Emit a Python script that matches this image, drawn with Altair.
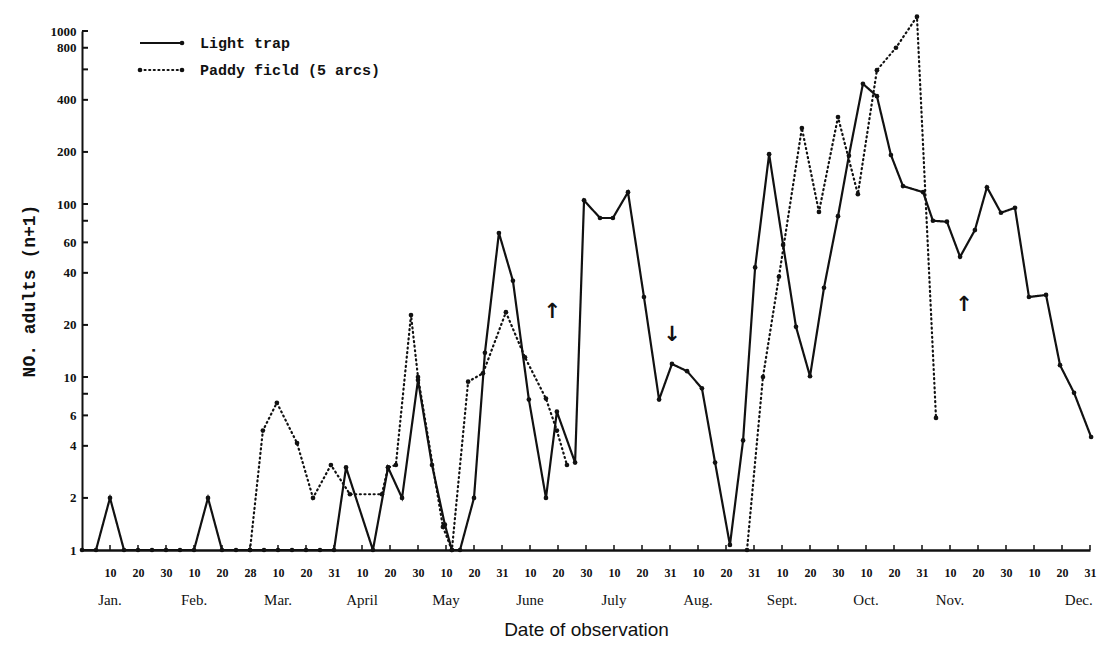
import altair as alt
import pandas as pd

# ---- axis text -------------------------------------------------------------
tick_labels = ["10", "20", "30", "10", "20", "28", "10", "20", "31",
               "10", "20", "30", "10", "20", "31", "10", "20", "30",
               "10", "20", "31", "10", "20", "31", "10", "20", "30",
               "10", "20", "31", "10", "20", "30", "10", "20", "31"]
months = ["Jan.", "Feb.", "Mar.", "April", "May", "June",
          "July", "Aug.", "Sept.", "Oct.", "Nov.", "Dec."]
y_ticks = [1, 2, 4, 6, 10, 20, 40, 60, 100, 200, 400, 800, 1000]
y_minor = [8, 80, 600]

# ---- data: x in 10-day periods from Jan 1, y = n + 1 ------------------------
light_k = [0, 0.5, 1, 1.5, 2, 2.5, 3, 3.5, 4, 4.5, 5, 5.5, 6, 6.5, 7, 7.5, 8, 8.5, 9,
           9.43, 10.39, 10.93, 11.43, 12.0, 12.5, 12.96, 13.21, 13.5, 14.0, 14.39,
           14.89, 15.39, 15.96, 16.57, 16.96, 17.61, 17.93,
           18.5, 18.96, 19.5, 20.07, 20.61, 21.07, 21.61, 22.14, 22.61, 23.14,
           23.61, 24.04, 24.54, 25.04, 25.5, 26.0, 26.5, 27.0, 27.39, 27.89,
           28.39, 28.89, 29.32, 30.04, 30.39, 30.89, 31.36, 31.89, 32.32, 32.82,
           33.32, 33.82, 34.43, 34.93, 35.43, 36.04]
light_v = [1, 1, 2, 1, 1, 1, 1, 1, 1, 2, 1, 1, 1, 1, 1, 1, 1, 1, 1,
           3, 1, 3, 2, 9.6, 3.1, 1.4, 1, 1, 2, 13.8, 68, 36, 7.4, 2.0, 6.3, 3.2, 105,
           83, 83, 117, 29, 7.4, 11.9, 10.8, 8.6, 3.2, 1.07, 4.3, 43, 194, 58, 19.5,
           10.1, 32.8, 85, 190, 495, 420, 192, 127, 117, 80, 79, 49.5, 70.7, 125,
           89, 95, 29, 29.8, 11.7, 8.1, 4.5]

paddy1_k = [6.0, 6.46, 6.96, 7.68, 8.25, 8.89, 9.57, 10.71, 10.93, 11.21, 11.75,
            12.0, 12.89, 13.21, 13.79, 14.32, 15.14, 15.82, 16.57, 16.96, 17.32]
paddy1_v = [1, 4.9, 7.1, 4.15, 2.0, 3.1, 2.1, 2.1, 3.0, 3.1, 22.8,
            10, 1.36, 1, 9.4, 10.5, 23.7, 13, 7.5, 4.9, 3.1]
paddy2_k = [23.75, 24.32, 24.89, 25.71, 26.32, 27.0, 27.71, 28.39, 29.07, 29.82, 30.5]
paddy2_v = [1, 10, 38, 275, 90, 318, 114, 594, 800, 1210, 5.8]

arrow_k = [16.8, 21.07, 31.5]
arrow_v = [23.8, 17.5, 26]
arrow_t = ["\u2191", "\u2193", "\u2191"]

# ---- frames ----------------------------------------------------------------
LT, PF = "Light trap", "Paddy ficld (5 arcs)"
df = pd.concat([
    pd.DataFrame({"k": light_k, "v": light_v, "series": LT, "seg": "L"}),
    pd.DataFrame({"k": paddy1_k, "v": paddy1_v, "series": PF, "seg": "P1"}),
    pd.DataFrame({"k": paddy2_k, "v": paddy2_v, "series": PF, "seg": "P2"}),
], ignore_index=True)

W, H = 1008, 519
FONT_TXT = "Liberation Mono"
INK = "#111111"

label_arr = "[" + ",".join(f"'{t}'" for t in tick_labels) + "]"

xscale = alt.Scale(domain=[0, 36], nice=False, zero=False)
yscale = alt.Scale(type="log", domain=[1, 1000], nice=False)

xaxis = alt.Axis(values=list(range(1, 37)), labelExpr=f"{label_arr}[datum.value - 1]",
                 ticks=False, grid=False, domainColor=INK, domainWidth=2.5,
                 labelFont="Liberation Serif", labelFontWeight="bold", labelFontSize=12,
                 labelColor=INK, labelPadding=17, labelOverlap=False, labelFlush=False,
                 labelSeparation=0, labelBound=False,
                 title="Date of observation", titleFont="Liberation Sans",
                 titleFontSize=19, titleFontWeight="normal", titleColor=INK,
                 titleY=70, titleBaseline="top")
yaxis = alt.Axis(values=y_ticks, format="d", ticks=False, grid=False, domainColor=INK,
                 domainWidth=2, labelFont="Liberation Serif", labelFontWeight="bold",
                 labelFontSize=13, labelColor=INK, labelPadding=6, labelOverlap=False,
                 labelFlush=False, labelSeparation=0,
                 title="NO. adults (n+1)", titleFont=FONT_TXT, titleFontSize=18,
                 titleFontWeight="bold", titleColor=INK, titlePadding=12)

X = alt.X("k:Q", scale=xscale, axis=xaxis)
Y = alt.Y("v:Q", scale=yscale, axis=yaxis)
dash = alt.StrokeDash("series:N", scale=alt.Scale(domain=[LT, PF], range=[[1, 0], [1, 3.6]]),
                      legend=None)

lines = alt.Chart(df).mark_line(color=INK, strokeWidth=2.2, strokeCap="round").encode(
    x=X, y=Y, detail="seg:N", strokeDash=dash)
dots = alt.Chart(df).mark_circle(color=INK, size=22, opacity=1).encode(x=X, y=Y)

# inward ticks
yt = pd.DataFrame({"v": y_ticks + y_minor})
ytick = alt.Chart(yt).mark_rule(color=INK, strokeWidth=2).encode(
    y=Y, x=alt.value(0), x2=alt.value(6))
xt = pd.DataFrame({"k": list(range(1, 37))})
xtick = alt.Chart(xt).mark_rule(color=INK, strokeWidth=1.5).encode(
    x=X, y=alt.value(H), y2=alt.value(H - 5))

# month names
month_k = [3 * i + 1 for i in range(12)]
month_k[-1] = 35.6
mdf = pd.DataFrame({"k": month_k, "m": months})
mtext = alt.Chart(mdf).mark_text(font="Liberation Serif", fontSize=15, color=INK,
                                 baseline="middle").encode(
    x=X, y=alt.value(H + 50), text="m:N")

# arrows
adf = pd.DataFrame({"k": arrow_k, "v": arrow_v, "t": arrow_t})
arrows = alt.Chart(adf).mark_text(font="DejaVu Sans", fontWeight="bold", fontSize=21,
                                  color=INK, baseline="middle").encode(
    x=X, y=Y, text="t:N")

# legend (manual)
ld = pd.DataFrame({"a": [0]})
leg = [
    alt.Chart(ld).mark_rule(color=INK, strokeWidth=2).encode(
        x=alt.value(58), x2=alt.value(100), y=alt.value(12)),
    alt.Chart(ld).mark_circle(color=INK, size=22, opacity=1).encode(
        x=alt.value(100), y=alt.value(12)),
    alt.Chart(ld).mark_text(text=LT, font=FONT_TXT, fontWeight="bold", fontSize=15,
                            color=INK, align="left", baseline="middle").encode(
        x=alt.value(118), y=alt.value(12)),
    alt.Chart(ld).mark_rule(color=INK, strokeWidth=2.2, strokeDash=[1, 3.6],
                            strokeCap="round").encode(
        x=alt.value(58), x2=alt.value(100), y=alt.value(39)),
    alt.Chart(ld).mark_circle(color=INK, size=22, opacity=1).encode(
        x=alt.value(58), y=alt.value(39)),
    alt.Chart(ld).mark_circle(color=INK, size=22, opacity=1).encode(
        x=alt.value(100), y=alt.value(39)),
    alt.Chart(ld).mark_text(text=PF, font=FONT_TXT, fontWeight="bold", fontSize=15,
                            color=INK, align="left", baseline="middle").encode(
        x=alt.value(118), y=alt.value(39)),
]

chart = alt.layer(lines, dots, ytick, xtick, mtext, arrows, *leg).properties(
    width=W, height=H,
    autosize=alt.AutoSizeParams(type="none"),
    padding={"left": 82, "top": 31, "right": 20, "bottom": 115},
    background="white",
).configure_view(stroke=None)

chart.save("out.html", embed_options={"renderer": "svg", "actions": False})
